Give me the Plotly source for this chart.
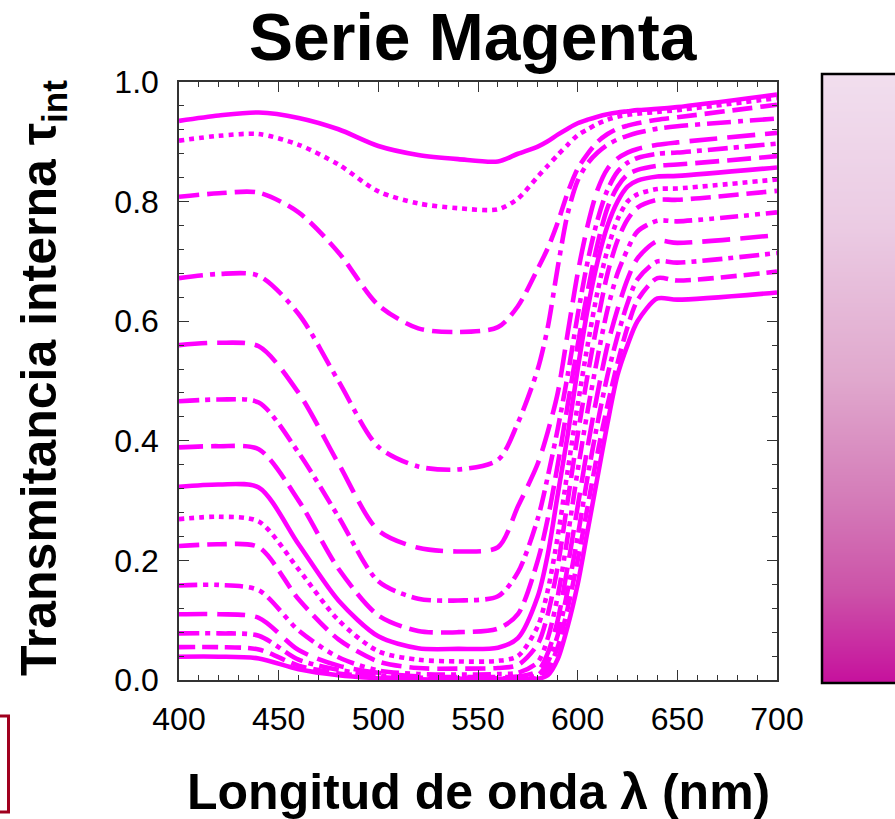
import numpy as np
import plotly.graph_objects as go

# Wavelength samples (nm)
wavelength = [400, 420, 440, 460, 480, 500, 520, 540, 560, 570, 580, 585,
              590, 595, 600, 605, 610, 615, 620, 625, 630, 640, 650, 700]

# Internal transmittance of the magenta series, thinnest to thickest sample
tau_1 = [.935, .944, .949, .940, .921, .893, .878, .871, .867, .880, .892, .901,
         .912, .922, .931, .937, .942, .946, .949, .951, .953, .955, .958, .979]
tau_2 = [.902, .910, .913, .895, .862, .817, .797, .789, .787, .805, .842, .860,
         .878, .895, .911, .921, .930, .937, .942, .945, .947, .950, .953, .973]
tau_3 = [.808, .814, .815, .782, .715, .627, .588, .582, .590, .625, .688, .722,
         .765, .815, .855, .880, .900, .913, .922, .927, .931, .937, .941, .962]
tau_4 = [.672, .679, .676, .612, .500, .390, .357, .352, .368, .430, .520, .590,
         .690, .780, .835, .864, .882, .895, .904, .910, .915, .922, .926, .939]
tau_5 = [.560, .564, .558, .480, .362, .250, .221, .215, .222, .290, .362, .415,
         .480, .580, .680, .760, .820, .855, .872, .882, .888, .895, .899, .915]
tau_6 = [.466, .469, .464, .380, .273, .165, .136, .133, .140, .180, .270, .340,
         .420, .510, .610, .700, .770, .820, .850, .865, .873, .880, .882, .897]
tau_7 = [.389, .391, .386, .300, .186, .108, .082, .080, .086, .110, .200, .270,
         .360, .460, .560, .650, .730, .790, .825, .845, .853, .860, .862, .876]
tau_8 = [.323, .327, .322, .227, .133, .073, .053, .052, .054, .070, .140, .210,
         .310, .410, .520, .620, .700, .760, .800, .825, .835, .842, .843, .857]
tau_9 = [.269, .273, .265, .185, .100, .048, .034, .031, .032, .040, .090, .150,
         .240, .350, .460, .560, .650, .720, .770, .800, .812, .821, .822, .837]
tau_10 = [.224, .227, .222, .135, .068, .031, .020, .019, .020, .025, .060, .110,
          .190, .300, .410, .510, .600, .680, .735, .770, .790, .803, .803, .818]
tau_11 = [.158, .159, .150, .083, .038, .016, .010, .009, .010, .012, .030, .070,
          .140, .240, .350, .450, .540, .620, .680, .720, .750, .768, .767, .782]
tau_12 = [.110, .110, .104, .050, .024, .012, .006, .005, .005, .006, .015, .045,
          .100, .190, .290, .390, .480, .560, .620, .670, .705, .734, .731, .744]
tau_13 = [.078, .078, .074, .034, .017, .008, .004, .003, .003, .003, .008, .030,
          .075, .150, .240, .340, .430, .510, .575, .630, .670, .700, .698, .714]
tau_14 = [.055, .055, .051, .024, .011, .005, .002, .002, .002, .002, .004, .018,
          .055, .120, .200, .290, .380, .460, .530, .590, .635, .672, .668, .683]
tau_15 = [.039, .039, .036, .018, .008, .003, .001, .001, .001, .001, .002, .008,
          .035, .090, .160, .250, .340, .430, .510, .560, .600, .638, .636, .648]

series = [tau_1, tau_2, tau_3, tau_4, tau_5, tau_6, tau_7, tau_8,
          tau_9, tau_10, tau_11, tau_12, tau_13, tau_14, tau_15]

x_ticks = [400, 450, 500, 550, 600, 650, 700]
y_ticks = [0.0, 0.2, 0.4, 0.6, 0.8, 1.0]

# Dash cycle used for the curves
dashes = ["solid", "5px,5px", "20px,8px", "24px,7px,5px,7px", "28px,10px",
          "20px,6px,5px,6px", "24px,8px", "solid", "5px,5px", "20px,8px",
          "18px,6px,5px,6px,5px,6px", "28px,10px", "20px,6px,5px,6px",
          "16px,7px", "solid"]

MAGENTA = "#ff00ff"
W, H = 895, 819


def px_x(p):
    return p / W


def px_y(p):
    return 1 - p / H


fig = go.Figure()

for vals, dash in zip(series, dashes):
    fig.add_trace(go.Scatter(
        x=wavelength, y=vals, mode="lines",
        line=dict(color=MAGENTA, width=4.6, dash=dash,
                  shape="spline", smoothing=0.8),
        showlegend=False, hoverinfo="skip",
    ))

# Gradient bar on the right
ramp = np.linspace(0, 1, 256)
fig.add_trace(go.Heatmap(
    z=ramp.reshape(-1, 1), x=[0], y=ramp,
    colorscale=[[0.0, "#f1deee"], [0.25, "#ebcbe3"], [0.5, "#e0a8cd"],
                [0.7, "#d47bb8"], [0.85, "#cc52a8"], [1.0, "#c6109d"]],
    zsmooth="best", showscale=False, hoverinfo="skip",
    xaxis="x2", yaxis="y2",
))

axis_common = dict(
    showline=True, linecolor="#333", linewidth=1.5, mirror="ticks",
    ticks="inside", tickcolor="#333", tickwidth=1.2, ticklen=10,
    showgrid=False, zeroline=False, automargin=False,
    tickfont=dict(family="Liberation Sans, Arial", size=32, color="black"),
)

fig.update_layout(
    width=W, height=H,
    margin=dict(l=0, r=0, t=0, b=0, pad=0),
    paper_bgcolor="white", plot_bgcolor="white",
    xaxis=dict(domain=[px_x(179), px_x(777)], range=[400, 700],
               tickvals=x_ticks, ticklabelstandoff=10,
               minor=dict(dtick=10, ticks="inside", ticklen=5,
                          tickcolor="#333", showgrid=False),
               **axis_common),
    yaxis=dict(domain=[px_y(680), px_y(82)], range=[0, 1],
               tickvals=y_ticks, tickformat=".1f", ticklabelstandoff=12,
               minor=dict(dtick=0.04, ticks="inside", ticklen=5,
                          tickcolor="#333", showgrid=False),
               **axis_common),
    xaxis2=dict(domain=[px_x(822), 1.0], range=[-0.5, 0.5], visible=False,
                anchor="y2", automargin=False),
    yaxis2=dict(domain=[px_y(683), px_y(74)], range=[1, 0], visible=False,
                anchor="x2", automargin=False),
)

# Frame of the gradient bar and the box at lower left
fig.add_shape(type="rect", xref="paper", yref="paper",
              x0=px_x(822), x1=px_x(905), y0=px_y(683), y1=px_y(74),
              line=dict(color="black", width=2.5), fillcolor="rgba(0,0,0,0)")
fig.add_shape(type="rect", xref="paper", yref="paper",
              x0=px_x(-6), x1=px_x(8.5), y0=px_y(812), y1=px_y(716),
              line=dict(color="#a0001e", width=3), fillcolor="rgba(0,0,0,0)")

title_font = dict(family="Liberation Sans, Arial", color="black")
fig.add_annotation(text="<b>Serie Magenta</b>", xref="paper", yref="paper",
                   x=px_x(473), y=px_y(37), xanchor="center", yanchor="middle",
                   showarrow=False, font=dict(size=66, **title_font))
fig.add_annotation(text="<b>Longitud de onda λ (nm)</b>", xref="paper",
                   yref="paper", x=px_x(478), y=px_y(792), xanchor="center",
                   yanchor="middle", showarrow=False,
                   font=dict(size=50, **title_font))
fig.add_annotation(text="<b>Transmitancia interna τ<sub>int</sub></b>",
                   xref="paper", yref="paper", x=px_x(42), y=px_y(378),
                   xanchor="center", yanchor="middle", textangle=-90,
                   showarrow=False, font=dict(size=50, **title_font))

fig.write_html("out.html")
